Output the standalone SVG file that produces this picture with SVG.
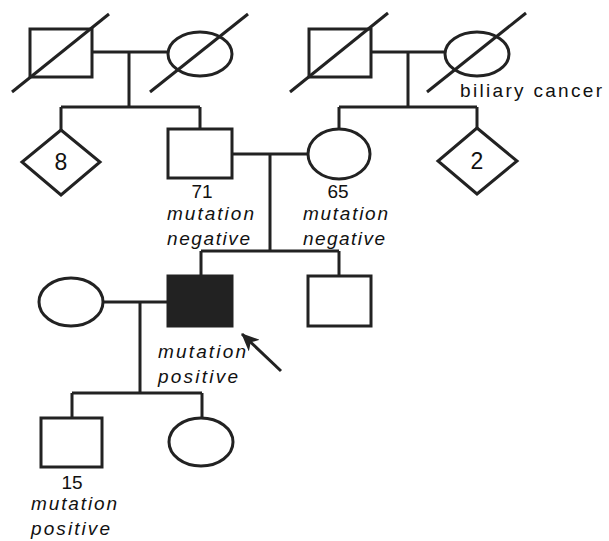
<svg xmlns="http://www.w3.org/2000/svg" width="609" height="541" viewBox="0 0 609 541">
<style>
.s{fill:#fff;stroke:#222;stroke-width:3}
.f{fill:#222;stroke:#222;stroke-width:3}
.l{fill:none;stroke:#222;stroke-width:3}
.d{stroke:#222;stroke-width:3}
.t{font-family:"Liberation Sans",Arial,sans-serif;fill:#111}
.n{font-size:19px;text-anchor:middle}
.b{font-size:23px;text-anchor:middle}
.i{font-size:19px;font-style:italic}
</style>
<defs>
<marker id="ah" markerWidth="18" markerHeight="16" refX="17" refY="8" orient="auto" markerUnits="userSpaceOnUse">
<path d="M0,0 L18,8 L0,16 L5,8 Z" fill="#222"/>
</marker>
</defs>
<rect width="609" height="541" fill="#fff"/>
<g id="connectors">
<path class="l" d="M92,52 H168 M129,52 V107 M61,107 H200 M61,107 V130 M200,107 V129"/>
<path class="l" d="M371,52 H445 M408,52 V107 M339,107 H477 M339,107 V128 M477,107 V128"/>
<path class="l" d="M232,154 H308 M270,154 V251 M201,251 H339 M201,251 V276 M339,251 V276"/>
<path class="l" d="M102,302 H168 M140,302 V393 M72,393 H202 M72,393 V418 M202,393 V418"/>
<line class="d" x1="281" y1="371" x2="242" y2="334" marker-end="url(#ah)"/>
</g>
<g id="pgf-paternal">
<rect class="s" x="30" y="29" width="62" height="48"/>
<line class="d" x1="12" y1="92" x2="109" y2="14"/>
</g>
<g id="pgm-paternal">
<ellipse class="s" cx="200" cy="54" rx="32" ry="22"/>
<line class="d" x1="150" y1="92" x2="248" y2="14"/>
</g>
<g id="pgf-maternal">
<rect class="s" x="309" y="29" width="62" height="48"/>
<line class="d" x1="290" y1="92" x2="388" y2="13"/>
</g>
<g id="pgm-maternal">
<ellipse class="s" cx="477" cy="54" rx="32" ry="22"/>
<line class="d" x1="427" y1="92" x2="526" y2="13"/>
<text class="t" x="460" y="97" font-size="19" textLength="142" lengthAdjust="spacing">biliary cancer</text>
</g>
<g id="siblings-8">
<polygon class="s" points="61,130 100,162 61,195 22,162"/>
<text class="t b" x="61" y="170">8</text>
</g>
<g id="father">
<rect class="s" x="168" y="129" width="64" height="49"/>
<text class="t n" x="202" y="198">71</text>
<text class="t i" x="167" y="220" textLength="87" lengthAdjust="spacing">mutation</text>
<text class="t i" x="167" y="245" textLength="83" lengthAdjust="spacing">negative</text>
</g>
<g id="mother">
<ellipse class="s" cx="339" cy="154" rx="31" ry="25"/>
<text class="t n" x="338" y="198">65</text>
<text class="t i" x="303" y="220" textLength="85" lengthAdjust="spacing">mutation</text>
<text class="t i" x="303" y="245" textLength="82" lengthAdjust="spacing">negative</text>
</g>
<g id="siblings-2">
<polygon class="s" points="477,128 517,161 477,194 438,161"/>
<text class="t b" x="477" y="169">2</text>
</g>
<g id="wife">
<ellipse class="s" cx="71" cy="302" rx="32" ry="24"/>
</g>
<g id="proband">
<rect class="f" x="168" y="276" width="64" height="50"/>
<text class="t i" x="158" y="358" textLength="88" lengthAdjust="spacing">mutation</text>
<text class="t i" x="158" y="383" textLength="80" lengthAdjust="spacing">positive</text>
</g>
<g id="brother">
<rect class="s" x="308" y="276" width="63" height="50"/>
</g>
<g id="son">
<rect class="s" x="41" y="418" width="61" height="49"/>
<text class="t n" x="72" y="489">15</text>
<text class="t i" x="31" y="510" textLength="86" lengthAdjust="spacing">mutation</text>
<text class="t i" x="31" y="535" textLength="79" lengthAdjust="spacing">positive</text>
</g>
<g id="daughter">
<ellipse class="s" cx="201" cy="442" rx="32" ry="24"/>
</g>
</svg>
